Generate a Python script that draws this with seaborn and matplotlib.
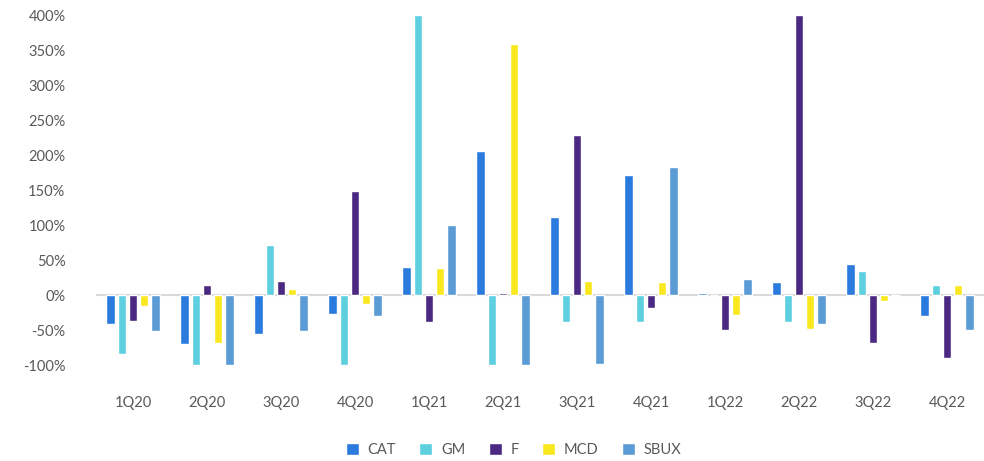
import matplotlib
matplotlib.use("Agg")
import matplotlib.pyplot as plt
import seaborn as sns
import pandas as pd
from matplotlib.ticker import FuncFormatter

quarters = ["1Q20", "2Q20", "3Q20", "4Q20", "1Q21", "2Q21", "3Q21", "4Q21",
            "1Q22", "2Q22", "3Q22", "4Q22"]
tickers = ["CAT", "GM", "F", "MCD", "SBUX"]
cat = [-41, -70, -56, -27, 40, 206, 112, 172, 3, 18, 44, -30]
gm = [-84, -100, 71, -100, 400, -100, -39, -39, 0, -39, 35, 15]
f = [-37, 14, 20, 149, -39, 3, 229, -19, -50, 400, -68, -90]
mcd = [-16, -68, 9, -13, 38, 358, 20, 18, -28, -48, -8, 15]
sbux = [-51, -100, -51, -30, 100, -100, -99, 183, 23, -41, 0, -50]
colors = ["#2B7BDE", "#5ECFDF", "#4B2882", "#FAE81E", "#5B9BD5"]
yticks = [-100, -50, 0, 50, 100, 150, 200, 250, 300, 350, 400]

series = dict(zip(tickers, [cat, gm, f, mcd, sbux]))
rows = []
for t in tickers:
    for q, v in zip(quarters, series[t]):
        rows.append({"quarter": q, "ticker": t, "value": v})
df = pd.DataFrame(rows)

sns.set_style("white")
plt.rcParams["font.family"] = ["Lato", "DejaVu Sans"]

fig = plt.figure(figsize=(9.84, 4.61), dpi=100)
ax = fig.add_axes([96 / 984, 1 - 365 / 461, 888 / 984, 350 / 461])

sns.barplot(data=df, x="quarter", y="value", hue="ticker", order=quarters,
            hue_order=tickers, palette=colors, width=0.75, gap=0.22,
            ax=ax, legend=True, saturation=1)

ax.set_ylim(-100, 400)
ax.set_xlim(-0.5, len(quarters) - 0.5)
ax.set_yticks(yticks)
ax.yaxis.set_major_formatter(FuncFormatter(lambda v, p: f"{int(v)}%"))
ax.axhline(0, color="#D9D9D9", lw=1.5, zorder=0.5)
for s in ax.spines.values():
    s.set_visible(False)
ax.set_xlabel("")
ax.set_ylabel("")
ax.tick_params(axis="x", length=0, pad=22, labelsize=10.5, labelcolor="#595959")
ax.tick_params(axis="y", length=0, pad=22, labelsize=10.5, labelcolor="#595959")

handles, labels = ax.get_legend_handles_labels()
ax.get_legend().remove()
fig.legend(handles, labels, loc="center", bbox_to_anchor=(0.522, 1 - 450 / 461),
           ncol=5, frameon=False, fontsize=10.5, labelcolor="#595959",
           handlelength=0.9, handleheight=0.9, handletextpad=0.6, columnspacing=1.6)

fig.savefig("out.png", dpi=100)
